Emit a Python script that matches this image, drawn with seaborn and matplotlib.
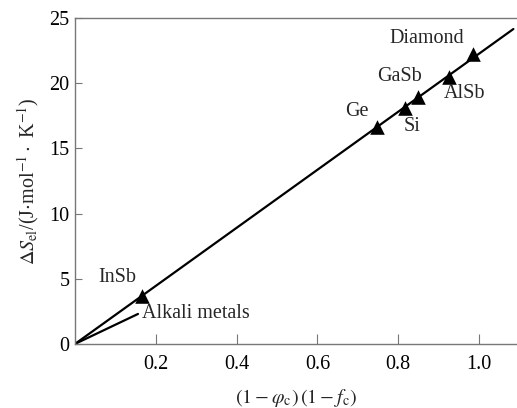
import matplotlib
matplotlib.use("Agg")
import matplotlib.pyplot as plt
import seaborn as sns
import pandas as pd

# materials and their read-off positions
materials = ["InSb", "Ge", "Si", "GaSb", "AlSb", "Diamond"]
phi_f = [0.166, 0.748, 0.817, 0.849, 0.926, 0.985]
delta_s = [3.7, 16.6, 18.1, 18.9, 20.5, 22.2]

# fitted line and alkali metal line
fit_x = [0.0, 1.085]
fit_y = [0.0, 24.15]
alkali_x = [0.0, 0.156]
alkali_y = [0.0, 2.3]

label_pos = {
    "InSb": (0.106, 5.1),
    "Ge": (0.698, 17.8),
    "Si": (0.834, 16.7),
    "GaSb": (0.804, 20.5),
    "AlSb": (0.965, 19.2),
    "Diamond": (0.870, 23.4),
}

sns.set_style("ticks")
plt.rcParams["font.family"] = ["Liberation Serif", "DejaVu Serif"]
plt.rcParams["mathtext.fontset"] = "stix"

fig = plt.figure(figsize=(5.17, 4.08), dpi=100)
ax = fig.add_axes([0.145, 0.157, 0.855, 0.799])

df = pd.DataFrame({"x": phi_f, "y": delta_s, "name": materials})

sns.lineplot(x=fit_x, y=fit_y, color="black", linewidth=1.6, ax=ax)
sns.lineplot(x=alkali_x, y=alkali_y, color="black", linewidth=1.6, ax=ax)
sns.scatterplot(data=df, x="x", y="y", marker="^", color="black", s=110,
                edgecolor="black", linewidth=0, zorder=3, ax=ax)

fs = 14.5
for name, (lx, ly) in label_pos.items():
    ax.text(lx, ly, name, fontsize=fs, ha="center", va="center")
ax.text(0.165, 2.3, "Alkali metals", fontsize=fs, ha="left", va="center")

ax.set_xlim(0, 1.094)
ax.set_ylim(0, 25)
ax.set_xticks([0.2, 0.4, 0.6, 0.8, 1.0])
ax.set_xticklabels(["0.2", "0.4", "0.6", "0.8", "1.0"])
ax.set_yticks([0, 5, 10, 15, 20, 25])
ax.tick_params(axis="x", direction="in", length=7, width=0.8, colors="#777777",
               labelcolor="black", labelsize=fs, pad=8)
ax.tick_params(axis="y", direction="in", length=5, width=0.8, colors="#777777",
               labelcolor="black", labelsize=fs, pad=4)

for side in ["left", "bottom", "top"]:
    ax.spines[side].set_color("#777777")
    ax.spines[side].set_linewidth(1.0)
ax.spines["right"].set_visible(False)

ax.set_xlabel(r"$(1-\varphi_{\rm c})\,(1-f_{\rm c})$", fontsize=fs, labelpad=9)
ax.set_ylabel(r"$\Delta S_{\rm el}$/(J$\cdot$mol$^{-1}\cdot$ K$^{-1}$)", fontsize=fs, labelpad=6)

fig.savefig("out.png", dpi=100)
